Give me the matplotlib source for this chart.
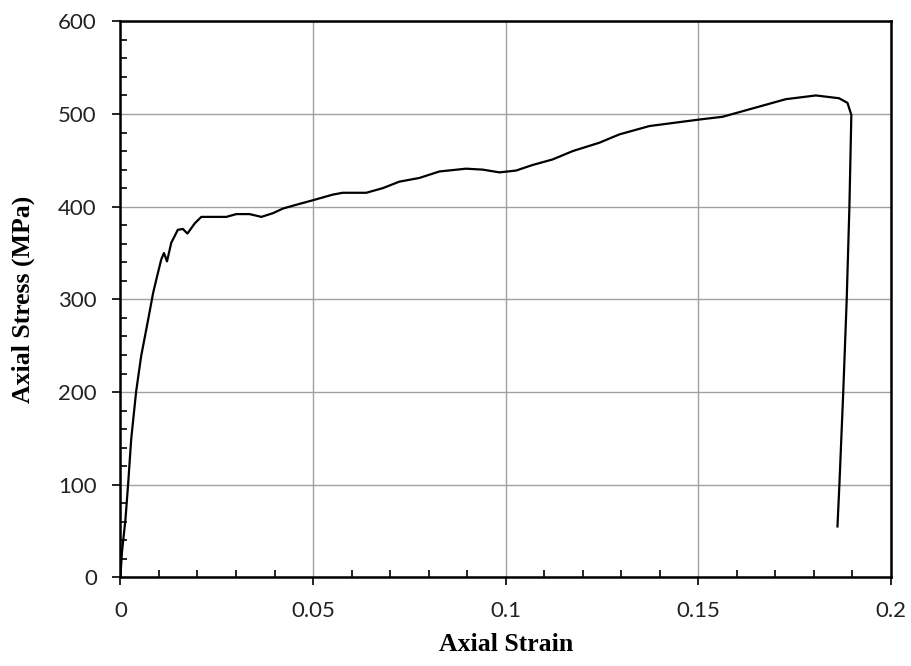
import matplotlib
matplotlib.use('Agg')
import matplotlib.pyplot as plt
from matplotlib.ticker import MultipleLocator

# stress-strain curve
strain = [0, 0.0004, 0.0013, 0.0020, 0.0028, 0.0041, 0.0054, 0.0072, 0.0085,
          0.0093, 0.0106, 0.0113, 0.0121, 0.0132, 0.0149, 0.0162, 0.0174,
          0.0193, 0.0210, 0.0245, 0.0275, 0.0301, 0.0335, 0.0366, 0.0396,
          0.0422, 0.0456, 0.0500, 0.0551, 0.0577, 0.0638, 0.0681, 0.0724,
          0.0776, 0.0828, 0.0897, 0.0940, 0.0984, 0.1027, 0.1070, 0.1122,
          0.1174, 0.1243, 0.1295, 0.1373, 0.1502, 0.1563, 0.1632, 0.1727,
          0.1805, 0.1865, 0.1887, 0.1897, 0.1892, 0.1885, 0.1876, 0.1866,
          0.1861]
stress = [0, 27, 62, 100, 149, 201, 239, 278, 307,
          321, 343, 350, 341, 361, 375, 376, 371,
          382, 389, 389, 389, 392, 392, 389, 393,
          398, 402, 407, 413, 415, 415, 420, 427,
          431, 438, 441, 440, 437, 439, 445, 451,
          460, 469, 478, 487, 494, 497, 505, 516,
          520, 517, 512, 499, 400, 300, 200, 100,
          55]

x_ticks = [0, 0.05, 0.1, 0.15, 0.2]
x_ticklabels = ['0', '0.05', '0.1', '0.15', '0.2']
y_ticks = [0, 100, 200, 300, 400, 500, 600]

fig = plt.figure(figsize=(9.12, 6.66), dpi=100)
ax = fig.add_axes([0.132, 0.133, 0.845, 0.835])

ax.plot(strain, stress, color='black', lw=1.6, zorder=3)

ax.set_xlim(0, 0.2)
ax.set_ylim(0, 600)
ax.set_xticks(x_ticks)
ax.set_xticklabels(x_ticklabels)
ax.set_yticks(y_ticks)
ax.xaxis.set_minor_locator(MultipleLocator(0.01))
ax.yaxis.set_minor_locator(MultipleLocator(20))

ax.grid(True, which='major', color='#a0a0a0', lw=1.0, zorder=1)
ax.tick_params(which='major', direction='out', length=6, width=1.2,
               pad=11, labelsize=16, labelcolor='#222222')
ax.tick_params(which='minor', direction='in', length=5, width=1.2)
for lab in ax.get_xticklabels() + ax.get_yticklabels():
    lab.set_family('Lato')

for s in ax.spines.values():
    s.set_linewidth(1.8)
    s.set_color('black')

ax.set_xlabel('Axial Strain', family='Liberation Serif', weight='bold',
              fontsize=18.5)
ax.set_ylabel('Axial Stress (MPa)', family='Liberation Serif',
              weight='bold', fontsize=18.5)
ax.xaxis.set_label_coords(0.5, -0.100)
ax.yaxis.set_label_coords(-0.111, 0.5)

fig.savefig('out.png', dpi=100)
